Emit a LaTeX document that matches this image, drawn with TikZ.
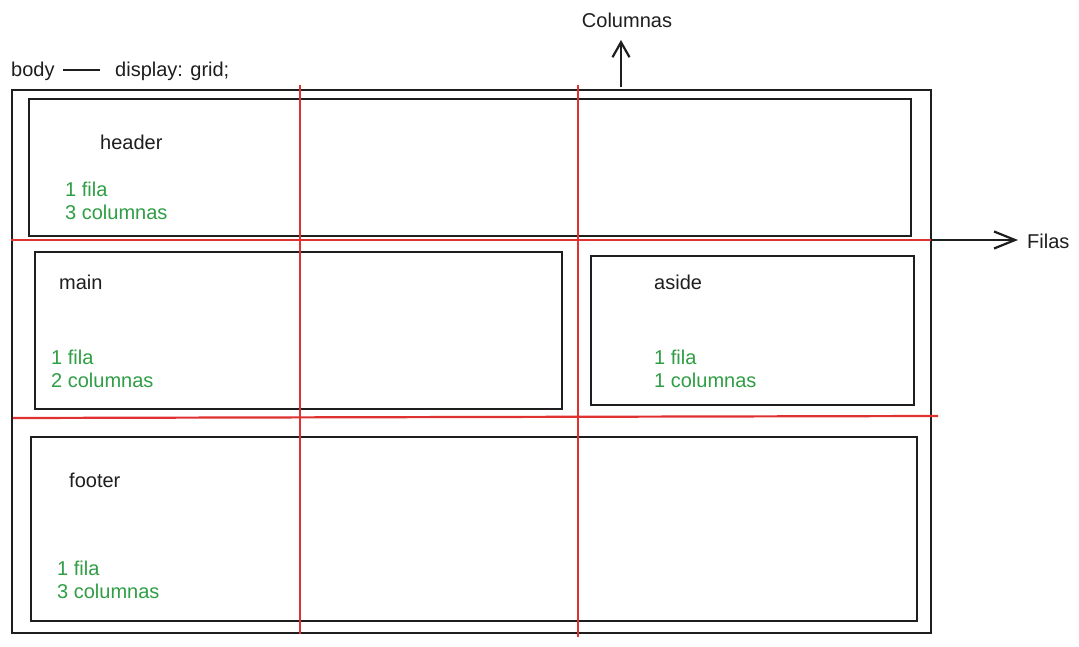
\documentclass[tikz,border=0pt]{standalone}
\usepackage{fontspec}
\setmainfont{Liberation Sans}
\usetikzlibrary{arrows.meta}
\definecolor{ink}{HTML}{1E1E1E}
\definecolor{gridred}{HTML}{E03131}
\definecolor{leaf}{HTML}{2F9E44}
\begin{document}
\begin{tikzpicture}[x=1pt,y=-1pt,
  box/.style={draw=ink,line width=2.2pt,inner sep=0pt,anchor=north west},
  gline/.style={draw=gridred,line width=2.2pt},
  lbl/.style={anchor=base west,inner sep=0pt,text=ink,font=\fontsize{20}{23}\selectfont},
  info/.style={anchor=base west,inner sep=0pt,text=leaf,font=\fontsize{20}{23}\selectfont,align=left},
  arr/.style={draw=ink,line width=2.2pt},
  barb/.style={-{Straight Barb[length=#1,width=17pt,line width=2.2pt]}}]
\useasboundingbox (0,0) rectangle (1079,647);
\fill[white] (0,0) rectangle (1079,647);

% body container
\node[box,minimum width=919pt,minimum height=543pt] (body) at (11,89) {};

% grid areas
\node[box,minimum width=882pt,minimum height=137pt] (header) at (28,98) {};
\node[box,minimum width=527pt,minimum height=157pt] (main) at (34,251) {};
\node[box,minimum width=323pt,minimum height=149pt] (aside) at (590,255) {};
\node[box,minimum width=886pt,minimum height=184pt] (footer) at (30,436) {};

% grid tracks
\coordinate (c1t) at (300,85);  \coordinate (c1b) at (300,634);
\coordinate (c2t) at (578,85);  \coordinate (c2b) at (578,637);
\coordinate (r1l) at (11,240);  \coordinate (r1r) at (935,240);
\coordinate (r2l) at (13,418);  \coordinate (r2r) at (938,416);
\draw[gline] (c1t) -- (c1b);
\draw[gline] (c2t) -- (c2b);
\draw[gline] (r1l) -- (r1r);
\draw[gline] (r2l) -- (r2r);

% axis arrows
\node[lbl,anchor=base] (coltxt) at (627,28) {Columnas};
\coordinate (colfoot) at (621,87);
\coordinate (colhead) at (621,40);
\draw[arr,barb=15pt] (colfoot) -- (colhead);
\node[lbl] (filtxt) at (1027,248) {Filas};
\coordinate (filfoot) at (931,240);
\coordinate (filhead) at (1018,240);
\draw[arr,barb=21pt] (filfoot) -- (filhead);

% body caption
\node[lbl] (bodytxt) at (11,77) {body};
\node[lbl] (disptxt) at (115,77) {display: grid;};
\coordinate (dashl) at (63,70);
\coordinate (dashr) at (100,70);
\draw[ink,line width=2pt] (dashl) -- (dashr);

% area labels (info nodes are placed by their last baseline)
\node[lbl] (hname) at (100,150) {header};
\node[info] (hinfo) at (65,220) {1 fila\\3 columnas};
\node[lbl] (mname) at (59,289) {main};
\node[info] (minfo) at (51,387) {1 fila\\2 columnas};
\node[lbl] (aname) at (654,289) {aside};
\node[info] (ainfo) at (654,387) {1 fila\\1 columnas};
\node[lbl] (fname) at (69,487) {footer};
\node[info] (finfo) at (57,598) {1 fila\\3 columnas};
\end{tikzpicture}
\end{document}
